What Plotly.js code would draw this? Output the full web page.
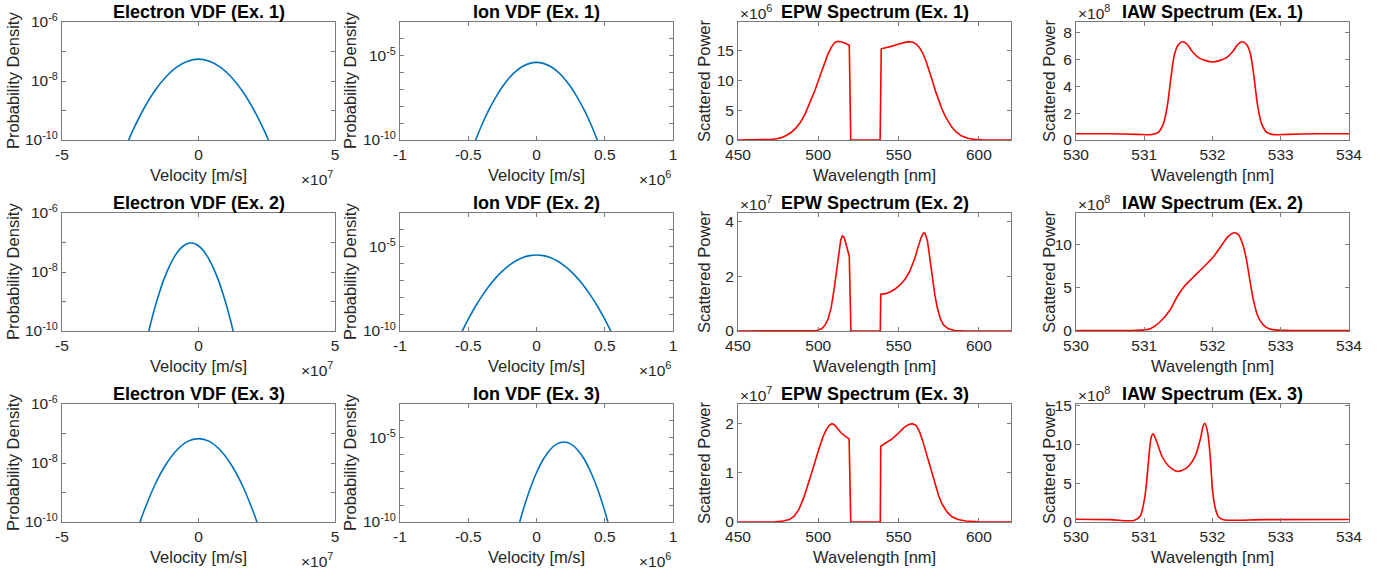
<!DOCTYPE html>
<html><head><meta charset="utf-8">
<script src="https://cdn.plot.ly/plotly-3.0.1.min.js"></script>
<style>html,body{margin:0;padding:0;background:#fff}#chart{width:1399px;height:574px}</style>
</head><body><div id="chart"></div>
<script>
// ---------- Data ----------
// Electron VDFs: velocity in units of 1e7 m/s, probability density
const elecV1 = [-2.6,-2.4,-2.0,-1.6,-1.2,-0.8,-0.4,0,0.4,0.8,1.2,1.6,2.0,2.4,2.6];
const elecF1 = [8.1e-11,2.15e-10,1.17e-9,4.68e-9,1.37e-8,2.97e-8,4.71e-8,5.5e-8,4.71e-8,2.97e-8,1.37e-8,4.68e-9,1.17e-9,2.15e-10,8.1e-11];
const elecV2 = [-1.875,-1.675,-1.475,-1.275,-1.075,-0.875,-0.675,-0.475,-0.275,-0.075,0.125,0.325,0.525,0.725,0.925,1.125,1.325];
const elecF2 = [6.1e-11,3.4e-10,1.5e-9,5.4e-9,1.5e-8,3.4e-8,6.1e-8,8.6e-8,9.6e-8,8.6e-8,6.1e-8,3.4e-8,1.5e-8,5.4e-9,1.5e-9,3.4e-10,6.1e-11];
const elecV3 = [-2.2,-2.0,-1.6,-1.2,-0.8,-0.4,0,0.4,0.8,1.2,1.6,2.0,2.2];
const elecF3 = [6.9e-11,2.3e-10,1.8e-9,8.7e-9,2.7e-8,5.4e-8,6.7e-8,5.4e-8,2.7e-8,8.7e-9,1.8e-9,2.3e-10,6.9e-11];

// Ion VDFs: velocity in units of 1e6 m/s
const ionV1 = [-0.46,-0.40,-0.35,-0.30,-0.25,-0.20,-0.15,-0.10,-0.05,0,0.05,0.10,0.15,0.20,0.25,0.30,0.35,0.40,0.46];
const ionF1 = [5.1e-11,8.0e-10,5.9e-9,3.3e-8,1.44e-7,4.8e-7,1.21e-6,2.36e-6,3.52e-6,4.0e-6,3.52e-6,2.36e-6,1.21e-6,4.8e-7,1.44e-7,3.3e-8,5.9e-9,8.0e-10,5.1e-11];
const ionV2 = [-0.56,-0.50,-0.45,-0.40,-0.35,-0.30,-0.25,-0.20,-0.15,-0.10,-0.05,0,0.05,0.10,0.15,0.20,0.25,0.30,0.35,0.40,0.45,0.50,0.56];
const ionF2 = [5.4e-11,5.0e-10,2.65e-9,1.18e-8,4.4e-8,1.37e-7,3.6e-7,7.9e-7,1.46e-6,2.27e-6,2.95e-6,3.22e-6,2.95e-6,2.27e-6,1.46e-6,7.9e-7,3.6e-7,1.37e-7,4.4e-8,1.18e-8,2.65e-9,5.0e-10,5.4e-11];
const ionV3 = [-0.14,-0.10,-0.05,0,0.05,0.10,0.15,0.20,0.25,0.30,0.35,0.40,0.45,0.50,0.54];
const ionF3 = [3.1e-11,4.5e-10,8.0e-9,8.4e-8,5.3e-7,1.95e-6,4.3e-6,5.55e-6,4.3e-6,1.95e-6,5.3e-7,8.4e-8,8.0e-9,4.5e-10,3.1e-11];

// EPW spectra: wavelength nm, scattered power (Ex.1 in 1e6, Ex.2/3 in 1e7)
const epwL1 = [450,460,466,470,474,477,480,483,486,489,492,495,498,501,504,506,508,510,512,514,516,518,519.3,520.2,538.5,539.2,542,546,550,553,556,559,561,563,565,567,569,571,573,575,577,579,581,583,586,589,593,597,602,610,620];
const epwP1 = [0,0,0.03,0.08,0.2,0.4,0.75,1.25,2.0,3.0,4.5,6.3,8.4,10.7,13.0,14.4,15.5,16.3,16.55,16.5,16.3,16.05,15.9,0,0,15.3,15.45,15.75,16.1,16.35,16.5,16.4,16.1,15.5,14.6,13.3,11.8,10.0,8.2,6.6,5.2,4.0,3.0,2.2,1.3,0.7,0.3,0.12,0.04,0.01,0];
const epwL2 = [450,495,499,502,504,506,508,510,511.5,513,514,515,516,517,518,519.3,520.3,538.6,538.9,542,545,548,551,554,557,560,562,564,565.5,566.5,568,569.5,571,572.5,574,576,578,581,585,590,620];
const epwP2 = [0,0,0.02,0.08,0.2,0.42,0.85,1.6,2.3,3.0,3.35,3.49,3.44,3.25,3.0,2.74,0,0,1.35,1.37,1.44,1.55,1.70,1.9,2.2,2.65,3.05,3.42,3.6,3.58,3.3,2.65,1.95,1.35,0.88,0.45,0.22,0.08,0.02,0.005,0];
const epwL3 = [450,472,478,482,485,488,491,494,497,500,503,505,507,508.5,510,512,514,516.5,519.2,520.2,538.6,538.9,542,546,550,553,556,558.5,561,563,565,567,569,571,573,575,577,580,583,587,592,600,620];
const epwP3 = [0,0,0.02,0.05,0.12,0.26,0.5,0.8,1.12,1.45,1.74,1.88,1.97,2.0,1.98,1.9,1.82,1.75,1.69,0,0,1.54,1.6,1.69,1.81,1.91,1.98,2.0,1.96,1.84,1.65,1.43,1.19,0.95,0.72,0.53,0.37,0.21,0.11,0.05,0.02,0.005,0];

// IAW spectra: wavelength nm, scattered power in 1e8
const iawL1 = [530,530.5,530.9,531.1,531.2,531.28,531.34,531.39,531.44,531.5,531.57,531.63,531.7,531.8,531.9,532,532.1,532.2,532.3,532.37,532.43,532.5,532.56,532.61,532.66,532.72,532.8,532.9,533.1,533.5,534];
const iawP1 = [0.47,0.46,0.42,0.40,0.55,1.2,2.6,4.6,6.3,7.1,7.3,7.1,6.6,6.1,5.9,5.8,5.9,6.1,6.6,7.1,7.3,7.1,6.3,4.6,2.6,1.2,0.55,0.40,0.42,0.46,0.47];
const iawL2 = [530,530.5,530.8,531.0,531.09,531.23,531.38,531.48,531.58,531.72,531.87,532.01,532.14,532.23,532.32,532.38,532.44,532.49,532.54,532.6,532.67,532.75,532.84,533.04,533.5,534];
const iawP2 = [0.05,0.05,0.06,0.13,0.27,1.04,2.47,3.94,5.10,6.25,7.41,8.57,10.0,10.97,11.39,11.16,10.12,8.57,6.25,3.55,1.62,0.66,0.23,0.08,0.05,0.05];
const iawL3 = [530,530.5,530.85,530.94,531.01,531.06,531.1,531.13,531.18,531.26,531.36,531.48,531.55,531.65,531.75,531.82,531.87,531.89,531.93,531.97,532.0,532.04,532.09,532.16,532.75,534];
const iawP3 = [0.35,0.3,0.2,0.73,3.31,7.6,10.83,11.35,10.4,8.47,7.18,6.53,6.62,7.18,8.55,10.61,12.55,12.68,11.47,8.04,4.17,1.80,0.64,0.30,0.30,0.33];

// Titles and tick labels
const exNames = ['Ex. 1','Ex. 2','Ex. 3'];
const elecXTicks = [-5,0,5];
const ionXTicks = [-1,-0.5,0,0.5,1];
const epwXTicks = [450,500,550,600];
const iawXTicks = [530,531,532,533,534];
const elecYTicks = [1e-10,1e-9,1e-8,1e-7,1e-6];
const elecYText = ['10<sup>-10</sup>','','10<sup>-8</sup>','','10<sup>-6</sup>'];
const ionYTicks = [1e-10,1e-9,1e-8,1e-7,1e-6,1e-5,1e-4,1e-3];
const ionYText = ['10<sup>-10</sup>','','','','','10<sup>-5</sup>','',''];
const epwYTicks = [[0,5,10,15],[0,2,4],[0,1,2]];
const iawYTicks = [[0,2,4,6,8],[0,5,10],[0,5,10,15]];
const epwYMax = [19.8,4.33,2.4];
const iawYMax = [8.77,13.67,15.2];
const epwExp = ['6','7','7'];
const iawExp = ['8','8','8'];

// ---------- Layout ----------
const W = 1399, H = 574;
const colPx = [[62,335],[400,673],[738,1011],[1076,1349]];
const rowPx = [[22,140],[213,331],[404,522]];
const px = v => v / W, py = v => 1 - v / H;
const txt = '#262626', lineCol = '#7a7a7a';
const BLUE = '#0072BD', RED = '#FF0000';
const TICK = 15.5, LAB = 16.5, TIT = 18;

const traces = [];
const layout = {
  width: W, height: H, margin: {l:0,r:0,t:0,b:0},
  paper_bgcolor:'#fff', plot_bgcolor:'#fff', showlegend:false,
  font:{family:'Liberation Sans, Arial, sans-serif', size:TICK, color:txt},
  annotations: []
};

function axBase(){
  return {showline:true, linecolor:lineCol, linewidth:1, mirror:'ticks',
    ticks:'inside', ticklen:4, tickcolor:lineCol, tickwidth:1,
    showgrid:false, zeroline:false, fixedrange:true,
    tickfont:{size:TICK, color:txt}};
}

const vdfE = [[elecV1,elecF1],[elecV2,elecF2],[elecV3,elecF3]];
const vdfI = [[ionV1,ionF1],[ionV2,ionF2],[ionV3,ionF3]];
const epw = [[epwL1,epwP1],[epwL2,epwP2],[epwL3,epwP3]];
const iaw = [[iawL1,iawP1],[iawL2,iawP2],[iawL3,iawP3]];

function ann(text, x, y, opts){
  layout.annotations.push(Object.assign({text, x:px(x), y:py(y), xref:'paper', yref:'paper',
    showarrow:false, xanchor:'center', yanchor:'middle', font:{size:LAB,color:txt}}, opts||{}));
}

for (let r = 0; r < 3; r++) {
  for (let c = 0; c < 4; c++) {
    const i = r*4 + c + 1;
    const xa = 'xaxis' + (i===1?'':i), ya = 'yaxis' + (i===1?'':i);
    const xr = 'x' + (i===1?'':i), yr = 'y' + (i===1?'':i);
    const X = axBase(), Y = axBase();
    X.domain = [px(colPx[c][0]), px(colPx[c][1])];
    Y.domain = [py(rowPx[r][1]), py(rowPx[r][0])];
    X.anchor = yr; Y.anchor = xr;
    let data, color, shape, title, xlab, ylab;
    if (c === 0) {
      data = vdfE[r]; color = BLUE; shape = 'spline';
      X.range = [-5,5]; X.tickvals = elecXTicks; X.ticktext = elecXTicks.map(String);
      Y.type = 'log'; Y.range = [-10,-6]; Y.tickvals = elecYTicks; Y.ticktext = elecYText;
      title = 'Electron VDF (' + exNames[r] + ')'; xlab = 'Velocity [m/s]'; ylab = 'Probability Density';
    } else if (c === 1) {
      data = vdfI[r]; color = BLUE; shape = 'spline';
      X.range = [-1,1]; X.tickvals = ionXTicks; X.ticktext = ionXTicks.map(String);
      Y.type = 'log'; Y.range = [-10,-3]; Y.tickvals = ionYTicks; Y.ticktext = ionYText;
      title = 'Ion VDF (' + exNames[r] + ')'; xlab = 'Velocity [m/s]'; ylab = 'Probability Density';
    } else if (c === 2) {
      data = epw[r]; color = RED; shape = 'linear';
      X.range = [450,620]; X.tickvals = epwXTicks;
      Y.range = [0, epwYMax[r]]; Y.tickvals = epwYTicks[r];
      title = 'EPW Spectrum (' + exNames[r] + ')'; xlab = 'Wavelength [nm]'; ylab = 'Scattered Power';
    } else {
      data = iaw[r]; color = RED; shape = 'spline';
      X.range = [530,534]; X.tickvals = iawXTicks;
      Y.range = [0, iawYMax[r]]; Y.tickvals = iawYTicks[r];
      title = 'IAW Spectrum (' + exNames[r] + ')'; xlab = 'Wavelength [nm]'; ylab = 'Scattered Power';
    }
    layout[xa] = X; layout[ya] = Y;
    traces.push({x:data[0], y:data[1], xaxis:xr, yaxis:yr, type:'scatter', mode:'lines',
      line:{color:color, width:1.6, shape:shape, smoothing:0.8}, hoverinfo:'skip'});

    const x0 = colPx[c][0], x1 = colPx[c][1], y0 = rowPx[r][0], y1 = rowPx[r][1];
    const cx = (x0+x1)/2, cy = (y0+y1)/2;
    ann('<b>' + title + '</b>', cx, y0 - 10, {font:{size:TIT,color:'#000'}});
    ann(xlab, cx, y1 + 35);
    const yTitleX = [13, 350, 704, 1049][c];
    ann(ylab, yTitleX, cy, {textangle:-90});
    if (c < 2) {
      ann('\u00d710<sup>' + (c===0?'7':'6') + '</sup>', x1, y1 + 38, {xanchor:'right', font:{size:TICK,color:txt}});
    } else {
      ann('\u00d710<sup>' + (c===2?epwExp[r]:iawExp[r]) + '</sup>', x0, y0 - 10, {xanchor:'left', font:{size:TICK,color:txt}});
    }
  }
}

Plotly.newPlot('chart', traces, layout, {staticPlot:true, displayModeBar:false});
</script></body></html>
